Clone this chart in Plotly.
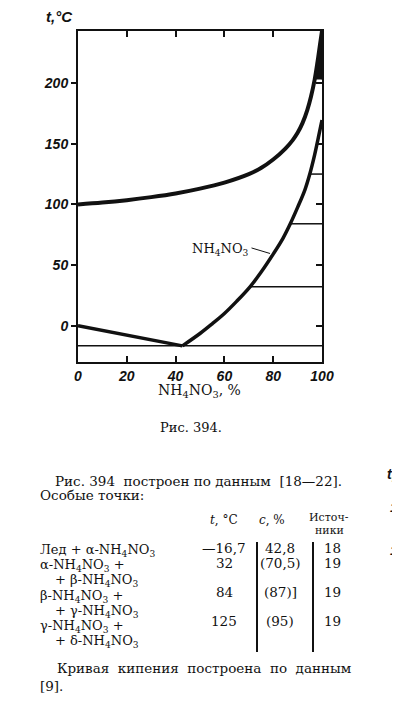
import plotly.graph_objects as go

# --- data (NH4NO3 - H2O) ---
boil_c = [0, 10, 20, 30, 40, 50, 60, 70, 75, 80, 85, 88, 90, 92, 94, 95.5, 97, 98.2, 99.2, 100]
boil_t = [100, 101.5, 103.5, 106, 109, 113, 118, 125, 130, 137, 146, 153, 159, 167, 178, 189, 203, 218, 232, 243]

ice_c = [0, 42.8]
ice_t = [0, -16.7]

sol_c = [42.8, 50, 55, 60, 65, 70.5, 75, 80, 84, 87, 90, 93, 95, 97, 98.5, 100]
sol_t = [-16.7, -6.5, 1.5, 10, 20, 32, 44, 59, 72, 84, 97.5, 112, 125, 141, 155, 169.6]

# invariant points: transition temperatures and where they start
trans_c = [0, 70.5, 87, 95]
trans_t = [-16.7, 32, 84, 125]

x_ticks = [0, 20, 40, 60, 80, 100]
y_ticks = [0, 50, 100, 150, 200]

# table of special points
rows_t = ["—16,7", "32", "84", "125"]
rows_c = ["42,8", "(70,5)", "(87)]", "(95)"]
rows_src = ["18", "19", "19", "19"]
rows_phase = [
    "Лед + α-NH<sub>4</sub>NO<sub>3</sub>",
    "α-NH<sub>4</sub>NO<sub>3</sub> +",
    "+ β-NH<sub>4</sub>NO<sub>3</sub>",
    "β-NH<sub>4</sub>NO<sub>3</sub> +",
    "+ γ-NH<sub>4</sub>NO<sub>3</sub>",
    "γ-NH<sub>4</sub>NO<sub>3</sub> +",
    "+ δ-NH<sub>4</sub>NO<sub>3</sub>",
]

INK = "#111111"
SERIF = "DejaVu Serif"
SANS = "Liberation Sans"

# the page body has an 8px margin, so work in window pixels and shift
OFF = 8
W, H = 400 - OFF, 712 - OFF
L, R, T, B = 78 - OFF, 322 - OFF, 31 - OFF, 362 - OFF


def px(x, y):
    """window pixel -> paper coords"""
    x, y = x - OFF, y - OFF
    return (x - L) / (R - L), (B - y) / (B - T)


fig = go.Figure()

# black wedge where the boiling curve runs into the 100 % axis
top = [(c, t) for c, t in zip(boil_c, boil_t) if t >= 203]
wedge_c = [c for c, _ in top] + [100]
wedge_t = [t for _, t in top] + [top[0][1]]
fig.add_trace(go.Scatter(x=wedge_c, y=wedge_t, mode="lines", fill="toself",
                         fillcolor=INK, line=dict(color=INK, width=1),
                         hoverinfo="skip"))

fig.add_trace(go.Scatter(x=boil_c, y=boil_t, mode="lines", line_shape="spline",
                         line=dict(color=INK, width=4), hoverinfo="skip"))
fig.add_trace(go.Scatter(x=ice_c, y=ice_t, mode="lines",
                         line=dict(color=INK, width=3.5), hoverinfo="skip"))
fig.add_trace(go.Scatter(x=sol_c, y=sol_t, mode="lines", line_shape="spline",
                         line=dict(color=INK, width=3.5), hoverinfo="skip"))
for c, t in zip(trans_c, trans_t):
    fig.add_trace(go.Scatter(x=[c, 100], y=[t, t], mode="lines",
                             line=dict(color=INK, width=1.5), hoverinfo="skip"))

# dummy trace for the right-hand tick axis
fig.add_trace(go.Scatter(x=[None], y=[None], yaxis="y2", hoverinfo="skip"))

tickfont = dict(family=SANS, size=14, color=INK, style="italic", weight="bold")

fig.update_layout(
    width=W, height=H,
    margin=dict(l=L, r=W - R, t=T, b=H - B),
    paper_bgcolor="white", plot_bgcolor="white",
    showlegend=False,
    xaxis=dict(range=[0, 100], tickvals=x_ticks, ticks="inside", ticklen=6,
               tickwidth=1.5, tickcolor=INK, showline=True, linecolor=INK,
               linewidth=2, mirror="ticks", showgrid=False, zeroline=False,
               tickfont=tickfont),
    yaxis=dict(range=[-30, 243], tickvals=y_ticks, ticks="outside", ticklen=5,
               tickwidth=1.5, tickcolor=INK, showline=True, linecolor=INK,
               linewidth=2, mirror=True, showgrid=False, zeroline=False,
               tickfont=tickfont),
    yaxis2=dict(range=[-30, 243], tickvals=y_ticks, overlaying="y", side="right",
                ticks="inside", ticklen=6, tickwidth=1.5, tickcolor=INK,
                showticklabels=False, showgrid=False, zeroline=False,
                showline=False),
)

ann = []


def text(x, y, s, size=13, xanchor="left", font=SERIF, **kw):
    xp, yp = px(x, y)
    ann.append(dict(x=xp, y=yp, xref="paper", yref="paper", text=s,
                    showarrow=False, xanchor=xanchor, yanchor="middle",
                    borderpad=0,
                    font=dict(family=font, size=size, color=INK, **kw)))


# axis captions
text(45, 16, "t,°C", size=15, font=SANS, style="italic", weight="bold")
text(157, 391, "NH<sub>4</sub>NO<sub>3</sub>, %", size=14)

# curve label with leader line
ann.append(dict(x=78.7, y=59.5, xref="x", yref="y", ax=-20, ay=-6,
                text="", showarrow=True, arrowhead=0, arrowwidth=1,
                arrowcolor=INK))
ann.append(dict(x=58.5, y=63, xref="x", yref="y",
                text="NH<sub>4</sub>NO<sub>3</sub>", showarrow=False,
                font=dict(family=SERIF, size=13, color=INK)))

text(191, 428, "Рис. 394.", size=13, xanchor="center")

text(54, 481, "Рис. 394  построен по данным  [18—22].", size=13.5)
text(39, 495, "Особые точки:", size=13.5)

# table header
text(224, 520, "<i>t</i>, °C", size=12, xanchor="center")
text(272, 520, "<i>c</i>, %", size=12, xanchor="center")
text(329, 517, "Источ-", size=11, xanchor="center")
text(329, 530, "ники", size=11, xanchor="center")

row_y = [548, 563, 592, 621]
for y, a, b, c in zip(row_y, rows_t, rows_c, rows_src):
    text(224, y, a, size=13.5, xanchor="center")
    text(280, y, b, size=13.5, xanchor="center")
    text(332, y, c, size=13.5, xanchor="center")

phase_y = [550, 565, 580, 596, 611, 626, 641]
for y, s in zip(phase_y, rows_phase):
    text(54 if s.startswith("+") else 39, y, s, size=13)

text(56, 668, "Кривая  кипения  построена  по  данным", size=13.5)
text(39, 686, "[9].", size=13.5)

# fragments of the neighbouring page
text(386, 474, "t,°", size=14, font=SANS, style="italic", weight="bold")
text(389, 507, "12", size=13, font=SANS, style="italic", weight="bold")
text(389, 550, "10", size=13, font=SANS, style="italic", weight="bold")

fig.update_layout(annotations=ann)

# vertical rules of the table
shapes = []
for xv in (257, 313):
    x0, y0 = px(xv, 542)
    _, y1 = px(xv, 652)
    shapes.append(dict(type="line", xref="paper", yref="paper",
                       x0=x0, x1=x0, y0=y0, y1=y1,
                       line=dict(color=INK, width=2)))
fig.update_layout(shapes=shapes)

fig.write_html("out.html")
